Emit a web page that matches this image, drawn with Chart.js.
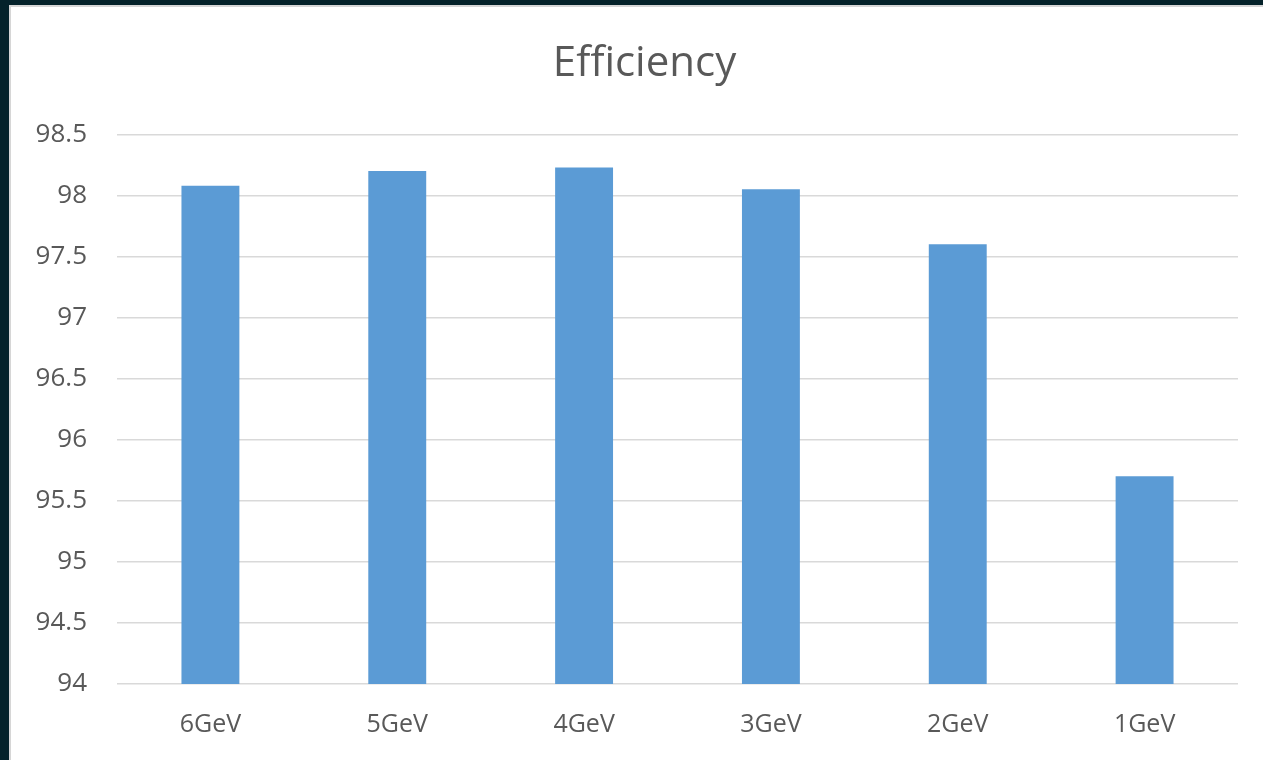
<!DOCTYPE html>
<html>
<head>
<meta charset="utf-8">
<script src="https://cdn.jsdelivr.net/npm/chart.js@4.4.0/dist/chart.umd.min.js"></script>
<style>
  html, body { margin: 0; padding: 0; background: #04222a; overflow: hidden; }
  #panel {
    position: absolute; left: 9px; top: 5px; width: 1280px; height: 760px;
    background: #ffffff; border-left: 2px solid #d6d6d6; border-top: 2px solid #d6d6d6;
  }
  #panel canvas { display: block; }
</style>
</head>
<body>
<div id="panel"><canvas id="effChart" width="1252" height="753"></canvas></div>
<script>
// energies along the x axis, left to right
const energies = ["6GeV", "5GeV", "4GeV", "3GeV", "2GeV", "1GeV"];
// efficiency in percent
const efficiency = [98.08, 98.20, 98.23, 98.05, 97.60, 95.70];
// y axis range and step
const yMin = 94;
const yMax = 98.5;
const yStep = 0.5;

const textColor = "#595959";
const fontFamily = "'Open Sans', 'Noto Sans', sans-serif";

const ctx = document.getElementById("effChart").getContext("2d");

// the original title sits a bit right of the canvas centre
const shiftTitle = {
    id: "shiftTitle",
    afterLayout(chart) {
        const t = chart.titleBlock;
        if (t) { t.left += 20; t.right += 20; }
    }
};

new Chart(ctx, {
    type: "bar",
    data: {
        labels: energies,
        datasets: [{
            label: "Efficiency",
            data: efficiency,
            backgroundColor: "#5b9bd5",
            borderWidth: 0,
            categoryPercentage: 1,
            barPercentage: 0.31
        }]
    },
    options: {
        responsive: false,
        animation: false,
        layout: { padding: { left: 0, right: 25, top: 0, bottom: 2 } },
        plugins: {
            legend: { display: false },
            tooltip: { enabled: false },
            title: {
                display: true,
                text: "Efficiency",
                color: textColor,
                font: { family: fontFamily, size: 42, weight: "normal" },
                padding: { top: 32, bottom: 45 }
            }
        },
        scales: {
            x: {
                grid: { display: false },
                border: { display: false },
                ticks: {
                    color: textColor,
                    font: { family: fontFamily, size: 25 },
                    padding: 18
                }
            },
            y: {
                min: yMin,
                max: yMax,
                border: { display: false },
                grid: { color: "#d9d9d9", lineWidth: 1.5, drawTicks: false },
                ticks: {
                    stepSize: yStep,
                    color: textColor,
                    font: { family: fontFamily, size: 26 },
                    padding: 30,
                    callback: v => String(v)
                },
                afterFit: scale => { scale.width = 106; }
            }
        }
    },
    plugins: [shiftTitle]
});
</script>
</body>
</html>
